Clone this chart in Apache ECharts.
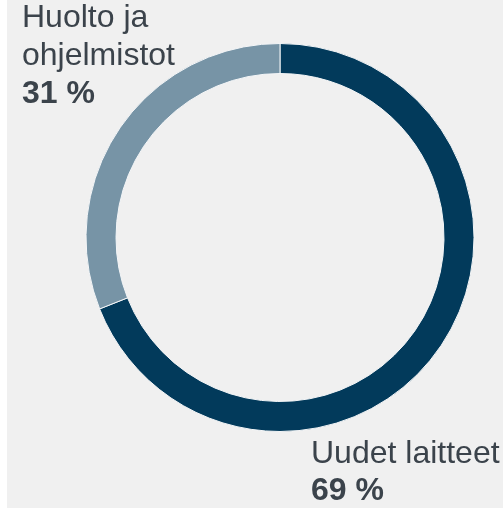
<!DOCTYPE html>
<html>
<head>
<meta charset="utf-8">
<script src="https://cdn.jsdelivr.net/npm/echarts@6/dist/echarts.min.js"></script>
<style>
  html, body { margin: 0; padding: 0; background: #ffffff; }
  #chart { position: absolute; left: 7px; top: 0; width: 496px; height: 508px; background: #f0f0f0; }
</style>
</head>
<body>
<div id="chart"></div>
<script>
// chart data
var categories = ['Uudet laitteet', 'Huolto ja ohjelmistot'];
var values = [69, 31];
var colors = ['#023a5b', '#7794a6'];
var labelLines = [
  ['Uudet laitteet'],
  ['Huolto ja', 'ohjelmistot']
];

var chart = echarts.init(document.getElementById('chart'));

var pieData = categories.map(function (name, i) {
  return { name: name, value: values[i], itemStyle: { color: colors[i] } };
});

var textColor = '#3b434b';
var font = '32px Arial, "Liberation Sans", sans-serif';
var boldFont = 'bold 32px Arial, "Liberation Sans", sans-serif';

function textEl(x, y, text, bold) {
  return {
    type: 'text',
    left: x, top: y,
    style: { text: text, fill: textColor, font: bold ? boldFont : font }
  };
}

var graphics = [];
// Huolto ja ohjelmistot (top-left)
labelLines[1].forEach(function (t, i) {
  graphics.push(textEl(15, 2 + i * 38, t, false));
});
graphics.push(textEl(15, 2 + 2 * 38, values[1] + ' %', true));
// Uudet laitteet (bottom-right)
graphics.push(textEl(304, 438, labelLines[0][0], false));
graphics.push(textEl(304, 475, values[0] + ' %', true));

chart.setOption({
  backgroundColor: '#f0f0f0',
  animation: false,
  series: [{
    type: 'pie',
    center: [273, 237.5],
    radius: [164, 194],
    startAngle: 90,
    clockwise: true,
    label: { show: false },
    labelLine: { show: false },
    emphasis: { disabled: true },
    itemStyle: { borderColor: '#f4f6f8', borderWidth: 1 },
    data: pieData
  }],
  graphic: graphics
});
</script>
</body>
</html>
